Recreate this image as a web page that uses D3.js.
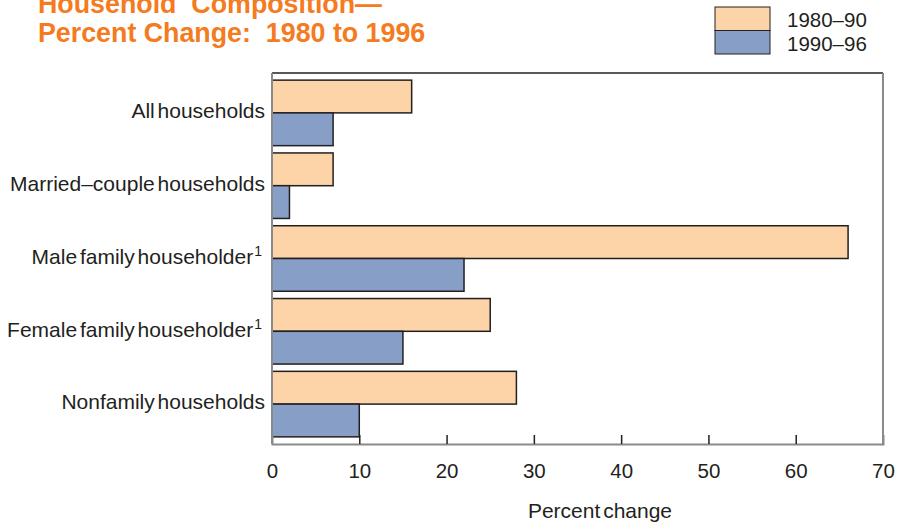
<!DOCTYPE html>
<html>
<head>
<meta charset="utf-8">
<script src="https://cdn.jsdelivr.net/npm/d3@7"></script>
<style>
    body { margin: 0; background: #fff; }
    svg { display: block; font-family: "Liberation Sans", Arial, sans-serif; }
    .cat-label { font-size: 21px; fill: #231f20; word-spacing: -3px; }
    .tick-label { font-size: 20.5px; fill: #231f20; }
</style>
</head>
<body>
<div id="chart"></div>
<script>
// --- Data ---
const categories = [
    "All households",
    "Married–couple households",
    "Male family householder",
    "Female family householder",
    "Nonfamily households"
];
const footnoted = [false, false, true, true, false];
const seriesNames = ["1980–90", "1990–96"];
const values1980s = [16, 7, 66, 25, 28];
const values1990s = [7, 2, 22, 15, 10];
const xTicks = [0, 10, 20, 30, 40, 50, 60, 70];

const colors = ["#fdd3a8", "#879fc6"];

const width = 904, height = 524;
const plotLeft = 272, plotRight = 883, plotTop = 73, plotBottom = 444;

const svg = d3.select("#chart").append("svg")
    .attr("width", width)
    .attr("height", height);

const x = d3.scaleLinear().domain([0, 70]).range([plotLeft, plotRight]);
const y = d3.scaleBand()
    .domain(categories)
    .range([76.5, 440.5])
    .paddingInner(0.1)
    .paddingOuter(0.05);
const ySub = d3.scaleBand()
    .domain([0, 1])
    .range([0, y.bandwidth()]);

// --- Title ---
const title = svg.append("g")
    .attr("fill", "#f47b20")
    .attr("font-weight", "bold")
    .attr("font-size", "26.8px");
title.append("text").attr("x", 38).attr("y", 13).attr("xml:space", "preserve")
    .text("Household  Composition—");
title.append("text").attr("x", 38).attr("y", 42).attr("xml:space", "preserve")
    .text("Percent Change:  1980 to 1996");

// --- Legend ---
const legend = svg.append("g");
seriesNames.forEach((name, i) => {
    legend.append("rect")
        .attr("x", 715).attr("y", 7 + i * 23.5)
        .attr("width", 55).attr("height", 23.5)
        .attr("fill", colors[i])
        .attr("stroke", "#231f20").attr("stroke-width", 1);
    legend.append("text")
        .attr("class", "tick-label")
        .attr("x", 787).attr("y", 27 + i * 24)
        .text(name);
});

// --- Bars ---
const rows = categories.map((c, i) => ({ cat: c, vals: [values1980s[i], values1990s[i]] }));

const groups = svg.selectAll("g.row")
    .data(rows)
    .join("g")
    .attr("class", "row")
    .attr("transform", d => `translate(0,${y(d.cat)})`);

groups.selectAll("rect")
    .data(d => d.vals.map((v, k) => ({ v, k })))
    .join("rect")
    .attr("x", x(0))
    .attr("y", d => ySub(d.k))
    .attr("width", d => x(d.v) - x(0))
    .attr("height", ySub.bandwidth())
    .attr("fill", d => colors[d.k])
    .attr("stroke", "#231f20")
    .attr("stroke-width", 1.5);

// --- Category labels ---
const labels = svg.selectAll("text.cat-label")
    .data(rows)
    .join("text")
    .attr("class", "cat-label")
    .attr("text-anchor", "end")
    .attr("x", 265)
    .attr("y", d => y(d.cat) + y.bandwidth() / 2 - 2)
    .attr("dy", "0.35em");
labels.append("tspan").text(d => d.cat);
labels.filter((d, i) => footnoted[i])
    .attr("x", 262)
    .append("tspan")
    .attr("font-size", "14px")
    .attr("dy", "-8")
    .attr("dx", "1")
    .text("1");

// --- Frame ---
svg.append("line").attr("x1", plotLeft).attr("x2", plotRight).attr("y1", plotTop).attr("y2", plotTop)
    .attr("stroke", "#231f20").attr("stroke-width", 1.5);
svg.append("line").attr("x1", plotLeft).attr("x2", plotLeft).attr("y1", plotTop).attr("y2", plotBottom)
    .attr("stroke", "#8a8a8a").attr("stroke-width", 2);
svg.append("line").attr("x1", plotRight).attr("x2", plotRight).attr("y1", plotTop).attr("y2", plotBottom)
    .attr("stroke", "#8a8a8a").attr("stroke-width", 2);

// --- X axis (ticks point inward) ---
const xAxis = d3.axisBottom(x)
    .tickValues(xTicks)
    .tickSize(-9)
    .tickPadding(19)
    .tickFormat(d3.format("d"));

const axisG = svg.append("g")
    .attr("transform", `translate(0,${plotBottom})`)
    .call(xAxis);
axisG.attr("font-family", null).attr("font-size", null);
axisG.select(".domain").attr("stroke", "#8a8a8a").attr("stroke-width", 2);
axisG.selectAll(".tick line")
    .attr("stroke", "#231f20").attr("stroke-width", 1.5)
    .filter(d => d === 0 || d === 70).remove();
axisG.selectAll(".tick text")
    .attr("class", "tick-label")
    .attr("fill", "#231f20");

svg.append("text")
    .attr("class", "cat-label")
    .attr("text-anchor", "middle")
    .attr("x", 600).attr("y", 518)
    .text("Percent change");
</script>
</body>
</html>
